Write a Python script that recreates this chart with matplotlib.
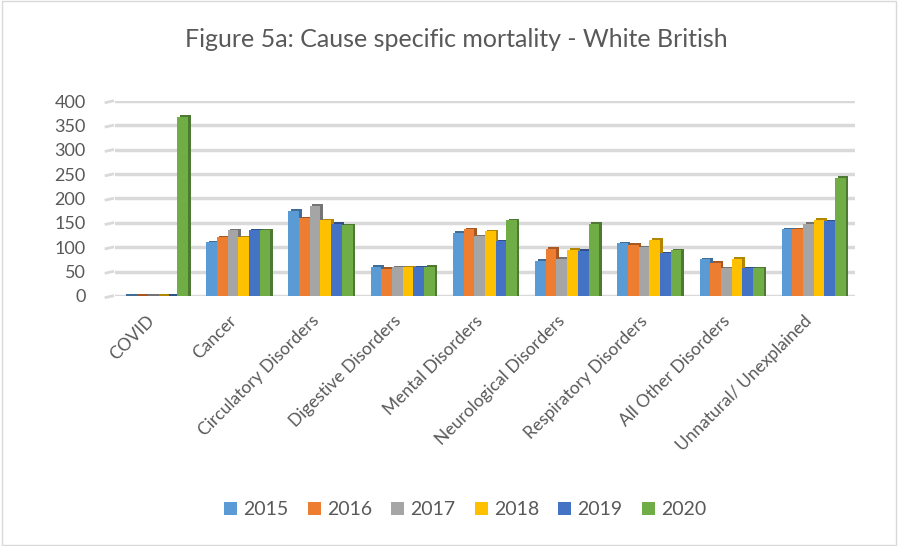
import matplotlib
matplotlib.use("Agg")
import matplotlib.pyplot as plt
import matplotlib.transforms as mtransforms
import numpy as np
from matplotlib.colors import to_rgb

categories = ["COVID", "Cancer", "Circulatory Disorders", "Digestive Disorders",
              "Mental Disorders", "Neurological Disorders", "Respiratory Disorders",
              "All Other Disorders", "Unnatural/ Unexplained"]
years = ["2015", "2016", "2017", "2018", "2019", "2020"]
v2015 = [0, 110, 175, 60, 130, 72, 108, 75, 137]
v2016 = [0, 120, 160, 56, 137, 97, 105, 68, 137]
v2017 = [0, 135, 185, 59, 122, 76, 100, 57, 148]
v2018 = [0, 120, 155, 59, 133, 95, 115, 76, 156]
v2019 = [0, 135, 148, 59, 112, 93, 88, 57, 153]
v2020 = [368, 135, 145, 60, 155, 148, 94, 57, 243]
series = [v2015, v2016, v2017, v2018, v2019, v2020]
colors = ["#5B9BD5", "#ED7D31", "#A5A5A5", "#FFC000", "#4472C4", "#70AD47"]
yticks = [0, 50, 100, 150, 200, 250, 300, 350, 400]

plt.rcParams['font.family'] = ['Lato', 'DejaVu Sans']
txt = "#595959"

fig = plt.figure(figsize=(8.98, 5.46), dpi=100)
fig.patches.append(plt.Rectangle((0.002, 0.002), 0.996, 0.996, transform=fig.transFigure,
                                 fill=False, edgecolor="#d9d9d9", linewidth=1))
ax = fig.add_axes([0.128, 0.458, 0.824, 0.357])

x = np.arange(len(categories))
bw = 0.13
depth_x = 0.03
depth_y = 3

def darker(c, f=0.7):
    r, g, b = to_rgb(c)
    return (r * f, g * f, b * f)

for i, (vals, c) in enumerate(zip(series, colors)):
    xs = x + (i - 2.5) * bw
    # 3D side/top shading
    ax.bar(xs + depth_x, np.array(vals) + depth_y, width=bw, bottom=0,
           color=darker(c), zorder=2, linewidth=0)
    ax.bar(xs, vals, width=bw, color=c, zorder=3, linewidth=0, label=years[i])

ax.set_xlim(-0.5, len(categories) - 0.5)
ax.set_ylim(0, 400)
ax.set_yticks(yticks)
ax.set_yticklabels([str(t) for t in yticks], fontsize=13, color=txt)
ax.yaxis.grid(True, color="#d9d9d9", linewidth=2.5, zorder=0)
ax.set_axisbelow(True)
ax.tick_params(axis='y', length=0, pad=21)
ax.set_xticks(x)
ax.set_xticklabels(categories, rotation=45, ha='right', rotation_mode='anchor',
                   fontsize=12.5, color=txt)
ax.tick_params(axis='x', length=0, pad=12)
offset = mtransforms.ScaledTranslation(-10 / 100, 0, fig.dpi_scale_trans)
for lbl in ax.get_xticklabels():
    lbl.set_transform(lbl.get_transform() + offset)
for s in ax.spines.values():
    s.set_visible(False)

# slanted wall ticks at left end of gridlines
trans = mtransforms.blended_transform_factory(ax.transAxes, ax.transData)
for t in yticks:
    ax.plot([-0.012, -0.003], [t - 3, t], transform=trans, color="#d9d9d9",
            linewidth=2, clip_on=False, zorder=0)

fig.text(0.508, 0.927, "Figure 5a: Cause specific mortality - White British",
         ha='center', va='center', fontsize=18, color=txt)

handles, labels = ax.get_legend_handles_labels()
fig.legend(handles, labels, loc='center', bbox_to_anchor=(0.518, 0.066), ncol=6,
           frameon=False, fontsize=14, handlelength=0.67, handleheight=0.67,
           handletextpad=0.3, columnspacing=1.0, labelcolor=txt)

fig.savefig("out.png", dpi=100)
